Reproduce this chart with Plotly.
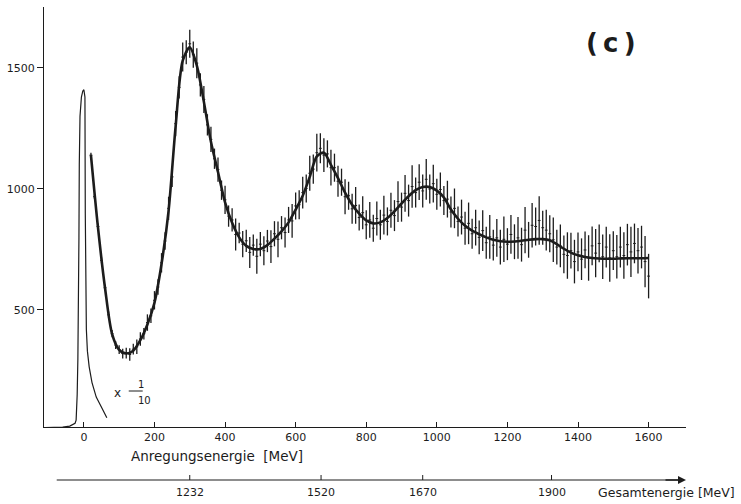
import plotly.graph_objects as go

# ---------------- data ----------------
E_data = list(range(20, 1601, 10))  # excitation energy [MeV]
counts = [
    1140, 968, 845, 705, 592, 480, 402, 355, 336, 320,
    322, 316, 338, 348, 380, 402, 448, 476, 540, 595,
    695, 785, 920, 1050, 1270, 1420, 1545, 1565, 1600, 1555,
    1520, 1430, 1370, 1265, 1205, 1125, 1080, 995, 955, 888,
    872, 812, 818, 772, 786, 738, 768, 722, 772, 745,
    785, 762, 815, 792, 840, 820, 872, 868, 930, 935,
    985, 1002, 1065, 1082, 1150, 1168, 1140, 1145, 1088, 1088,
    1032, 1028, 968, 972, 918, 932, 882, 902, 852, 872,
    838, 878, 852, 892, 866, 912, 890, 948, 925, 982,
    952, 1010, 985, 1028, 992, 1040, 1000, 1022, 978, 998,
    952, 958, 905, 920, 866, 884, 838, 858, 815, 840,
    800, 828, 778, 802, 768, 798, 760, 792, 772, 812,
    782, 798, 770, 830, 790, 850, 845, 870, 840, 830,
    815, 790, 760, 765, 730, 725, 745, 700, 740, 710,
    748, 715, 765, 735, 775, 720, 760, 715, 745, 720,
    760, 725, 770, 740, 775, 745, 760, 700, 640,
]
errors = [
    10, 10, 12, 12, 12, 14, 15, 16, 18, 20,
    22, 26, 22, 30, 28, 24, 34, 30, 38, 32,
    40, 36, 48, 42, 52, 46, 60, 50, 58, 54,
    62, 48, 56, 44, 52, 42, 50, 40, 58, 44,
    48, 66, 42, 54, 46, 64, 44, 72, 50, 60,
    46, 68, 52, 74, 48, 62, 54, 70, 56, 60,
    66, 58, 72, 60, 78, 62, 70, 56, 74, 58,
    64, 56, 72, 58, 62, 76, 54, 68, 60, 74,
    56, 70, 62, 80, 58, 72, 64, 84, 60, 76,
    66, 88, 62, 74, 68, 84, 60, 78, 64, 70,
    60, 76, 64, 82, 62, 72, 68, 86, 62, 74,
    70, 84, 66, 90, 64, 78, 72, 94, 66, 80,
    72, 86, 70, 96, 74, 92, 78, 100, 70, 84,
    76, 92, 72, 88, 78, 96, 74, 90, 80, 86,
    76, 94, 80, 100, 78, 92, 84, 98, 80, 90,
    84, 96, 86, 104, 82, 94, 88, 106, 92,
]

E_fit = list(range(20, 1601, 20))
fit = [
    1140, 840, 590, 400, 335, 320, 332, 375, 440, 530,
    690, 910, 1260, 1530, 1585, 1510, 1360, 1195, 1070, 945,
    860, 800, 765, 752, 752, 768, 795, 825, 862, 915,
    972, 1050, 1135, 1150, 1100, 1045, 985, 935, 898, 870,
    858, 862, 880, 908, 940, 970, 995, 1008, 1008, 993,
    965, 915, 877, 848, 828, 813, 800, 790, 784, 782,
    783, 786, 790, 793, 793, 788, 772, 753, 737, 726,
    719, 715, 713, 712, 712, 713, 714, 714, 714, 715,
]

# elastic peak (scaled x 1/10)
E_el = [-110, -60, -40, -30, -25, -22, -19, -17, -15, -14, -13, -11, -7, -3, 0,
        3, 4, 5, 7, 10, 15, 23, 35, 51, 65]
el = [14, 16, 20, 26, 32, 45, 150, 300, 500, 800, 1100, 1300, 1380, 1405, 1410,
      1380, 900, 600, 420, 330, 265, 200, 140, 95, 55]

# total-energy scale (W) and matching excitation energies
W_labels = ["1232", "1520", "1670", "1900"]
W_pos_E = [300, 672, 960, 1325]

ink = "#1c1c1c"

fig = go.Figure()
fig.add_trace(go.Scatter(x=E_el, y=el, mode="lines",
                         line=dict(color=ink, width=1.2), hoverinfo="skip"))
fig.add_trace(go.Scatter(
    x=E_data, y=counts, mode="markers",
    marker=dict(symbol="line-ew", size=2, color=ink, line=dict(width=1, color=ink)),
    error_y=dict(type="data", array=errors, visible=True,
                 color=ink, thickness=1.3, width=0)))
fig.add_trace(go.Scatter(x=E_fit, y=fit, mode="lines",
                         line=dict(color=ink, width=2.6, shape="spline", smoothing=0.8)))

# layout geometry (pixels)
L, R, T, B = 42, 55, 7, 77
W, H = 741, 504
pw, ph = W - L - R, H - T - B

def px_to_paper_x(px):
    return (px - L) / pw

def py_to_paper_y(py):
    return (H - B - py) / ph

font = "DejaVu Sans"

fig.update_layout(
    width=W, height=H,
    margin=dict(l=L, r=R, t=T, b=B),
    paper_bgcolor="white", plot_bgcolor="white",
    showlegend=False,
    font=dict(family=font, size=11, color=ink),
    xaxis=dict(range=[-113, 1706], showgrid=False, zeroline=False,
               showline=True, linecolor=ink, linewidth=1.2,
               tickvals=[0, 200, 400, 600, 800, 1000, 1200, 1400, 1600],
               ticks="inside", ticklen=5, tickcolor=ink, tickwidth=1,
               tickfont=dict(family=font, size=11, color=ink)),
    yaxis=dict(range=[16.5, 1752], showgrid=False, zeroline=False,
               showline=True, linecolor=ink, linewidth=1.2,
               tickvals=[500, 1000, 1500],
               ticks="outside", ticklen=6, tickcolor=ink, tickwidth=1,
               tickfont=dict(family=font, size=11, color=ink)),
)

shapes = []
ann = []

# x-axis title
ann.append(dict(text="Anregungsenergie  [MeV]", xref="paper", yref="paper",
                x=px_to_paper_x(127), y=py_to_paper_y(456), xanchor="left",
                yanchor="middle", showarrow=False,
                font=dict(family=font, size=13.5, color=ink)))

# second (total energy) axis
y2 = py_to_paper_y(480)
shapes.append(dict(type="line", xref="x", yref="paper", x0=-77, x1=1690,
                   y0=y2, y1=y2, line=dict(color=ink, width=1.2)))
ann.append(dict(x=1706, y=y2, xref="x", yref="paper", ax=-22, ay=0,
                showarrow=True, arrowhead=2, arrowsize=1, arrowwidth=1.6,
                arrowcolor=ink, text=""))
tick_h = 5 / ph
for lab, e in zip(W_labels, W_pos_E):
    shapes.append(dict(type="line", xref="x", yref="paper", x0=e, x1=e,
                       y0=y2, y1=y2 + tick_h, line=dict(color=ink, width=1)))
    ann.append(dict(text=lab, x=e, y=py_to_paper_y(493), xref="x", yref="paper",
                    showarrow=False, xanchor="center", yanchor="middle",
                    font=dict(family=font, size=11, color=ink)))
ann.append(dict(text="Gesamtenergie [MeV]", xref="paper", yref="paper",
                x=px_to_paper_x(596), y=py_to_paper_y(493), xanchor="left",
                yanchor="middle", showarrow=False,
                font=dict(family=font, size=12.5, color=ink)))

# panel label
ann.append(dict(text="<b>(\u2009c\u2009)</b>", xref="paper", yref="paper",
                x=px_to_paper_x(611), y=py_to_paper_y(43), xanchor="center",
                yanchor="middle", showarrow=False,
                font=dict(family=font, size=26, color=ink)))

# "x 1/10" note for the elastic peak
ann.append(dict(text="x", xref="paper", yref="paper",
                x=px_to_paper_x(110), y=py_to_paper_y(393), showarrow=False,
                yanchor="middle",
                font=dict(family=font, size=12, color=ink)))
ann.append(dict(text="1", xref="paper", yref="paper",
                x=px_to_paper_x(134), y=py_to_paper_y(384), showarrow=False,
                yanchor="middle",
                font=dict(family=font, size=10, color=ink)))
ann.append(dict(text="10", xref="paper", yref="paper",
                x=px_to_paper_x(134), y=py_to_paper_y(400), showarrow=False,
                yanchor="middle",
                font=dict(family=font, size=10, color=ink)))
shapes.append(dict(type="line", xref="paper", yref="paper",
                   x0=px_to_paper_x(127), x1=px_to_paper_x(141),
                   y0=py_to_paper_y(391), y1=py_to_paper_y(391),
                   line=dict(color=ink, width=1)))

fig.update_layout(shapes=shapes, annotations=ann)
fig.write_html("out.html")
